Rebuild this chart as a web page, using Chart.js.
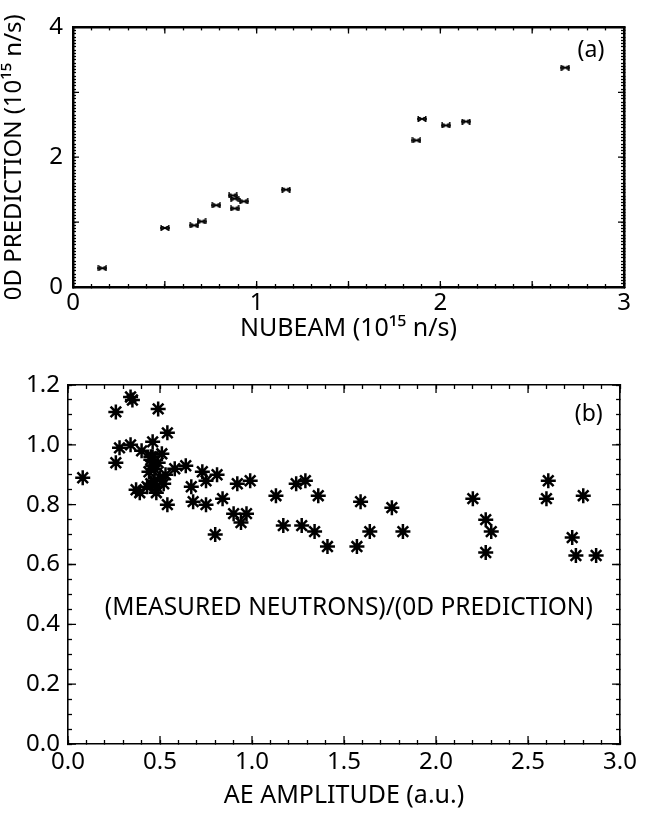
<!DOCTYPE html>
<html>
<head>
<meta charset="utf-8">
<script src="https://cdn.jsdelivr.net/npm/chart.js@4.4.0/dist/chart.umd.min.js"></script>
<style>
  body { margin: 0; background: #fff; width: 645px; height: 813px; position: relative; overflow: hidden; }
  canvas { position: absolute; left: 0; }
  #chart-a { top: 0; }
  #chart-b { top: 345px; }
</style>
</head>
<body>
<canvas id="chart-a" width="645" height="345"></canvas>
<canvas id="chart-b" width="645" height="468"></canvas>
<script>
// (a) NUBEAM vs 0D prediction, 10^15 n/s
const nubeam = [0.16, 0.50, 0.66, 0.70, 0.78, 0.87, 0.88, 0.88, 0.93, 1.16, 1.87, 1.90, 2.03, 2.14, 2.68];
const prediction = [0.29, 0.91, 0.95, 1.01, 1.26, 1.41, 1.36, 1.21, 1.32, 1.50, 2.26, 2.59, 2.49, 2.55, 3.38];
const topXTicks = [0, 1, 2, 3];
const topYTicks = [0, 2, 4];

// (b) AE amplitude vs measured/0D ratio
const aeAmplitude = [
  0.08, 0.26, 0.34, 0.35, 0.49, 0.54, 0.28, 0.34, 0.26, 0.40,
  0.46, 0.45, 0.51, 0.37, 0.39, 0.48, 0.54, 0.58, 0.64, 0.67,
  0.68, 0.73, 0.75, 0.75, 0.81, 0.84, 0.80, 0.90, 0.92, 0.94,
  0.97, 0.99, 1.13, 0.45, 0.46, 0.44, 0.47, 0.50, 0.53, 0.48,
  0.45, 0.47, 0.49, 0.43, 0.52, 0.46, 1.24, 1.29, 1.36, 1.17,
  1.27, 1.34, 1.41, 1.59, 1.76, 1.57, 1.64, 1.82, 2.20, 2.27,
  2.30, 2.27, 2.61, 2.60, 2.80, 2.74, 2.76, 2.87
];
const ratio = [
  0.89, 1.11, 1.16, 1.15, 1.12, 1.04, 0.99, 1.00, 0.94, 0.98,
  1.01, 0.96, 0.97, 0.85, 0.84, 0.84, 0.80, 0.92, 0.93, 0.86,
  0.81, 0.91, 0.88, 0.80, 0.90, 0.82, 0.70, 0.77, 0.87, 0.74,
  0.77, 0.88, 0.83, 0.95, 0.93, 0.91, 0.88, 0.89, 0.90, 0.86,
  0.87, 0.92, 0.94, 0.86, 0.87, 0.96, 0.87, 0.88, 0.83, 0.73,
  0.73, 0.71, 0.66, 0.81, 0.79, 0.66, 0.71, 0.71, 0.82, 0.75,
  0.71, 0.64, 0.88, 0.82, 0.83, 0.69, 0.63, 0.63
];
const bottomXTicks = [0, 0.5, 1.0, 1.5, 2.0, 2.5, 3.0];
const bottomYTicks = [0, 0.2, 0.4, 0.6, 0.8, 1.0, 1.2];

const FONT = "'Noto Sans', sans-serif";

// tick mark positions (minor steps) between min and max
function tickStops(min, max, step) {
  const n = Math.round((max - min) / step);
  const out = [];
  for (let i = 0; i <= n; i++) out.push({ value: +(min + i * step).toFixed(4) });
  return out;
}

// label only where the value is one of the listed tick labels
function labelFor(list, digits) {
  return v => {
    const t = list.find(t => Math.abs(t - v) < 1e-6);
    return t === undefined ? '' : t.toFixed(digits);
  };
}

// small squashed asterisk used in panel (a)
function smallStar() {
  const c = document.createElement('canvas');
  c.width = 10; c.height = 6;
  const g = c.getContext('2d');
  g.strokeStyle = '#000';
  g.lineWidth = 1.4;
  g.beginPath();
  g.moveTo(0, 3); g.lineTo(10, 3);
  g.moveTo(1, 0.5); g.lineTo(9, 5.5);
  g.moveTo(1, 5.5); g.lineTo(9, 0.5);
  g.moveTo(1.2, 0); g.lineTo(1.2, 6);
  g.moveTo(8.8, 0); g.lineTo(8.8, 6);
  g.stroke();
  return c;
}

// longer inward marks at the major positions + text placed in data coordinates
function makeDecor(cfg) {
  return {
    id: 'decor',
    afterDraw(chart) {
      const ctx = chart.ctx;
      const sx = chart.scales.x, sy = chart.scales.y;
      const L = sx.getPixelForValue(sx.min), R = sx.getPixelForValue(sx.max);
      const T = sy.getPixelForValue(sy.max), B = sy.getPixelForValue(sy.min);
      ctx.save();
      ctx.strokeStyle = '#000';
      ctx.lineWidth = cfg.width;
      ctx.beginPath();
      cfg.xMajor.forEach(v => {
        const px = sx.getPixelForValue(v);
        ctx.moveTo(px, B); ctx.lineTo(px, B - cfg.len);
        ctx.moveTo(px, T); ctx.lineTo(px, T + cfg.len);
      });
      cfg.yMajor.forEach(v => {
        const py = sy.getPixelForValue(v);
        ctx.moveTo(L, py); ctx.lineTo(L + cfg.len, py);
        ctx.moveTo(R, py); ctx.lineTo(R - cfg.len, py);
      });
      ctx.stroke();
      ctx.fillStyle = '#000';
      ctx.textBaseline = 'middle';
      cfg.notes.forEach(n => {
        ctx.font = n.size + 'px ' + FONT;
        ctx.textAlign = n.align;
        ctx.fillText(n.text, sx.getPixelForValue(n.x), sy.getPixelForValue(n.y));
      });
      ctx.restore();
    }
  };
}

// one axis; box edge drawn by border, inward minor ticks by a negative tickLength
function makeScale(o) {
  const s = {
    type: 'linear',
    position: o.position,
    axis: o.axis,
    min: o.min,
    max: o.max,
    afterBuildTicks: sc => { sc.ticks = tickStops(o.min, o.max, o.step); },
    afterFit: sc => {
      if (o.axis === 'x') sc.height = o.size; else sc.width = o.size;
    },
    grid: {
      display: true,
      drawOnChartArea: false,
      drawTicks: true,
      tickLength: -o.tick,
      tickWidth: 1.3,
      tickColor: '#000',
      color: '#000'
    },
    border: { display: true, width: o.border, color: '#000' },
    ticks: {
      color: '#000',
      font: { family: FONT, size: 24 },
      maxRotation: 0,
      autoSkip: false,
      padding: (o.pad || 0) + o.tick,
      callback: o.labels ? labelFor(o.labels, o.digits) : () => ''
    },
    title: o.title ? {
      display: true, text: o.title, color: '#000',
      font: { family: FONT, size: o.titleSize },
      padding: { top: 0, bottom: o.titlePad }
    } : { display: false }
  };
  return s;
}

// (a)
new Chart(document.getElementById('chart-a'), {
  type: 'scatter',
  data: {
    datasets: [{
      data: nubeam.map((v, i) => ({ x: v, y: prediction[i] })),
      pointStyle: smallStar(),
      pointRadius: 4,
      borderColor: '#000',
      backgroundColor: '#000'
    }]
  },
  options: {
    responsive: false,
    animation: false,
    layout: { padding: { top: 19.6, right: 21, left: 0, bottom: 0 } },
    plugins: { legend: { display: false }, tooltip: { enabled: false } },
    scales: {
      x: makeScale({ axis: 'x', position: 'bottom', min: 0, max: 3, step: 0.1, tick: 3, border: 2.5, size: 58,
        labels: topXTicks, digits: 0, pad: 2, title: 'NUBEAM (10¹⁵ n/s)', titleSize: 25, titlePad: 1 }),
      x2: makeScale({ axis: 'x', position: 'top', min: 0, max: 3, step: 0.1, tick: 3, border: 2.5, size: 0 }),
      y: makeScale({ axis: 'y', position: 'left', min: 0, max: 4, step: 0.05, tick: 3, border: 2.5, size: 73,
        labels: topYTicks, digits: 0, pad: 10, title: '0D PREDICTION (10¹⁵ n/s)', titleSize: 24, titlePad: 6 }),
      y2: makeScale({ axis: 'y', position: 'right', min: 0, max: 4, step: 0.05, tick: 3, border: 2.5, size: 0 })
    }
  },
  plugins: [makeDecor({
    width: 1.3, len: 6,
    xMajor: [0, 0.5, 1, 1.5, 2, 2.5, 3], yMajor: [0, 1, 2, 3, 4],
    notes: [{ text: '(a)', x: 2.82, y: 3.65, size: 23, align: 'center' }]
  })]
});

// (b)
new Chart(document.getElementById('chart-b'), {
  type: 'scatter',
  data: {
    datasets: [{
      data: aeAmplitude.map((v, i) => ({ x: v, y: ratio[i] })),
      pointStyle: 'star',
      pointRadius: 7.5,
      borderWidth: 2.5,
      borderColor: '#000',
      backgroundColor: '#000'
    }]
  },
  options: {
    responsive: false,
    animation: false,
    layout: { padding: { top: 40, right: 18, left: 0, bottom: 0 } },
    plugins: { legend: { display: false }, tooltip: { enabled: false } },
    scales: {
      x: makeScale({ axis: 'x', position: 'bottom', min: 0, max: 3, step: 0.1, tick: 4, border: 1.6, size: 69,
        labels: bottomXTicks, digits: 1, pad: 4, title: 'AE AMPLITUDE (a.u.)', titleSize: 25, titlePad: 2 }),
      x2: makeScale({ axis: 'x', position: 'top', min: 0, max: 3, step: 0.1, tick: 4, border: 1.6, size: 0 }),
      y: makeScale({ axis: 'y', position: 'left', min: 0, max: 1.2, step: 0.05, tick: 4, border: 1.6, size: 68,
        labels: bottomYTicks, digits: 1, pad: 8 }),
      y2: makeScale({ axis: 'y', position: 'right', min: 0, max: 1.2, step: 0.05, tick: 4, border: 1.6, size: 0 })
    }
  },
  plugins: [makeDecor({
    width: 1.3, len: 8,
    xMajor: [0, 0.5, 1, 1.5, 2, 2.5, 3], yMajor: [0, 0.2, 0.4, 0.6, 0.8, 1.0, 1.2],
    notes: [
      { text: '(b)', x: 2.83, y: 1.1, size: 23, align: 'center' },
      { text: '(MEASURED NEUTRONS)/(0D PREDICTION)', x: 0.2, y: 0.455, size: 24.5, align: 'left' }
    ]
  })]
});
</script>
</body>
</html>
